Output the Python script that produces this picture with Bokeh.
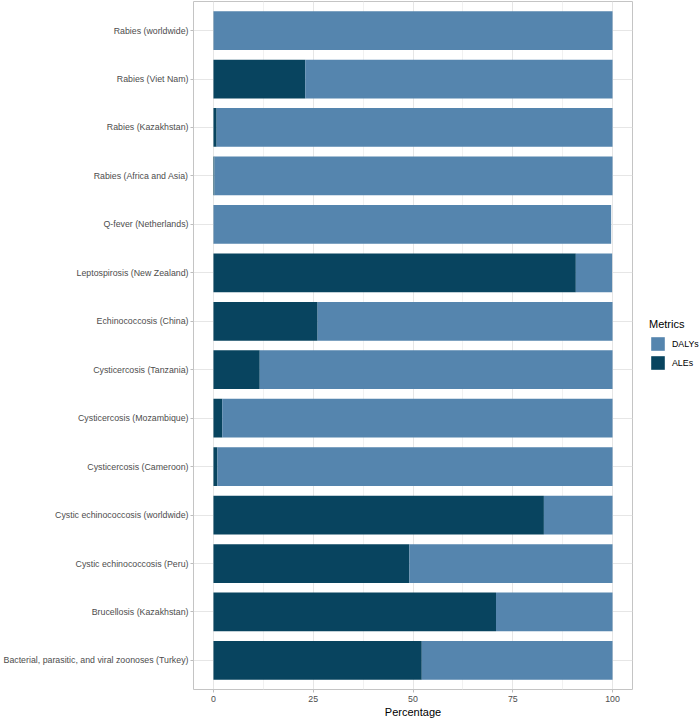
from bokeh.plotting import figure
from bokeh.models import (ColumnDataSource, FactorRange, FixedTicker, Legend, LegendItem)
from bokeh.embed import file_html
from bokeh.resources import INLINE

# Data (top to bottom as in the chart)
categories = [
    "Rabies (worldwide)",
    "Rabies (Viet Nam)",
    "Rabies (Kazakhstan)",
    "Rabies (Africa and Asia)",
    "Q-fever (Netherlands)",
    "Leptospirosis (New Zealand)",
    "Echinococcosis (China)",
    "Cysticercosis (Tanzania)",
    "Cysticercosis (Mozambique)",
    "Cysticercosis (Cameroon)",
    "Cystic echinococcosis (worldwide)",
    "Cystic echinococcosis (Peru)",
    "Brucellosis (Kazakhstan)",
    "Bacterial, parasitic, and viral zoonoses (Turkey)",
]
ales = [0.05, 23.0, 0.8, 0.25, 0.05, 90.8, 26.1, 11.6, 2.2, 1.0, 82.8, 49.1, 70.8, 52.2]
dalys = [99.95, 77.0, 99.2, 99.75, 99.6, 9.1, 73.9, 88.4, 97.8, 99.0, 17.2, 50.9, 29.2, 47.8]
x_ticks = [0, 25, 50, 75, 100]
x_minor = [12.5, 37.5, 62.5, 87.5]

DARK = "#08445f"
LIGHT = "#5585ae"
FONT = "Liberation Sans"

source = ColumnDataSource(dict(cat=categories, ALEs=ales, DALYs=dalys))

p = figure(
    y_range=FactorRange(factors=list(reversed(categories)), range_padding=0.1,
                        range_padding_units="absolute"),
    x_range=(-5, 105),
    frame_width=439, frame_height=688,
    min_border_left=0, min_border_right=64, min_border_top=1, min_border_bottom=29,
    output_backend="svg", toolbar_location=None,
    background_fill_color="white", border_fill_color="white",
)

rs = p.hbar_stack(["ALEs", "DALYs"], y="cat", height=0.8, color=[DARK, LIGHT],
                  line_color=None, source=source)

# panel border
p.outline_line_color = "#c4c4c4"
p.outline_line_width = 1

# grids
p.xaxis.ticker = FixedTicker(ticks=x_ticks, minor_ticks=x_minor)
p.xgrid.grid_line_color = "#e6e6e6"
p.xgrid.minor_grid_line_color = "#f1f1f1"
p.ygrid.grid_line_color = "#e6e6e6"

for ax in (p.xaxis, p.yaxis):
    ax.axis_line_color = None
    ax.major_tick_line_color = "#bdbdbd"
    ax.major_tick_in = 0
    ax.major_tick_out = 3
    ax.minor_tick_line_color = None
    ax.major_label_text_font = FONT
    ax.major_label_text_font_size = "8.8px"
    ax.major_label_text_color = "#4d4d4d"
    ax.major_label_standoff = 2

p.xaxis.axis_label = "Percentage"
p.xaxis.axis_label_text_font = FONT
p.xaxis.axis_label_text_font_size = "11px"
p.xaxis.axis_label_text_font_style = "normal"
p.xaxis.axis_label_text_color = "#000000"
p.xaxis.axis_label_standoff = 1

legend = Legend(
    items=[LegendItem(label="DALYs", renderers=[rs[1]]),
           LegendItem(label="ALEs", renderers=[rs[0]])],
    title="Metrics",
    location=(17, 318),
    orientation="vertical",
    glyph_width=17, glyph_height=17,
    label_height=17,
    spacing=2,
    padding=0, margin=0,
    label_standoff=6,
    title_standoff=5,
    border_line_color=None,
    background_fill_alpha=0,
    label_text_font=FONT, label_text_font_size="8.8px", label_text_color="#000000",
    title_text_font=FONT, title_text_font_size="11px", title_text_font_style="normal",
    title_text_color="#000000",
)
p.add_layout(legend, "right")

open("out.html", "w").write(file_html(p, INLINE))
